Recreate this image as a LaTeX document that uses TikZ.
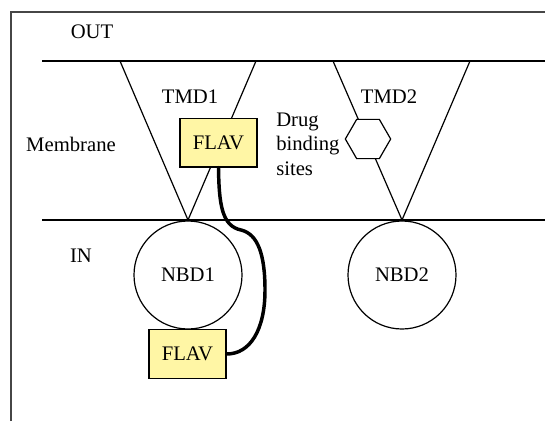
\documentclass[tikz,border=0pt]{standalone}
\usepackage{fontspec}
\setmainfont{Liberation Serif}
\usepackage{tikz}
\usetikzlibrary{shapes.geometric}

\definecolor{flavyellow}{RGB}{255,246,165}
\definecolor{framegray}{RGB}{70,70,70}

\tikzset{
  flavbox/.style={draw, line width=1pt, fill=flavyellow, minimum width=57.75pt, minimum height=36.5pt, inner sep=0pt},
  nbdcircle/.style={draw, circle, line width=0.9pt, minimum size=81pt, inner sep=0pt},
  drugsite/.style={draw, regular polygon, regular polygon sides=6, fill=white, line width=0.9pt, minimum size=34pt, inner sep=0pt},
  plaintext/.style={inner sep=0.75pt}
}

\begin{document}
\begin{tikzpicture}[x=0.75pt,y=0.75pt,yscale=-1,xscale=1,font=\fontsize{15.5}{18.5}\selectfont]
\useasboundingbox (0,0) rectangle (545,421);

%Frame
\draw [color=framegray, line width=1pt] (11,421) -- (11,12) -- (545,12) ;

%Membrane lines
\coordinate (outL) at (42,61) ;
\coordinate (outR) at (545,61) ;
\coordinate (inL) at (42,220) ;
\coordinate (inR) at (545,220) ;
\draw [line width=0.85pt] (outL) -- (outR) ;
\draw [line width=0.85pt] (inL) -- (inR) ;

%Transmembrane domains
\coordinate (tmd1a) at (120,61) ;
\coordinate (tmd1b) at (256,61) ;
\coordinate (tmd1tip) at (188,220) ;
\coordinate (tmd2a) at (333,61) ;
\coordinate (tmd2b) at (470,61) ;
\coordinate (tmd2tip) at (402,220) ;
\draw [line width=0.9pt] (tmd1a) -- (tmd1tip) -- (tmd1b) ;
\draw [line width=0.9pt] (tmd2a) -- (tmd2tip) -- (tmd2b) ;

%Nucleotide binding domains
\node [nbdcircle] (nbd1) at (188,275) {NBD1};
\node [nbdcircle] (nbd2) at (402,275) {NBD2};

%Drug binding site
\node [drugsite] (site) at (368,139) {};

%FLAV boxes
\node [flavbox] (flav1) at (218.5,142.5) {FLAV};
\node [flavbox] (flav2) at (187.5,354) {FLAV};

%Linker
\draw [line width=2.6pt, line cap=round] (flav1.south) .. controls (219,205) and (222,226) .. (241,230) .. controls (258,234) and (265,255) .. (265,290) .. controls (265,330) and (250,354) .. (flav2.east) ;

% Text Node
\node [plaintext] (out) at (92,32) {OUT};
% Text Node
\node [plaintext] (membrane) at (71,144) {Membrane};
% Text Node
\node [plaintext] (in) at (81,256) {IN};
% Text Node
\node [plaintext] (tmd1) at (190,97) {TMD1};
% Text Node
\node [plaintext] (tmd2) at (389,97) {TMD2};
% Text Node
\node [plaintext, anchor=west, align=left] (drug) at (275,144) {Drug\\binding\\sites};

\end{tikzpicture}
\end{document}
